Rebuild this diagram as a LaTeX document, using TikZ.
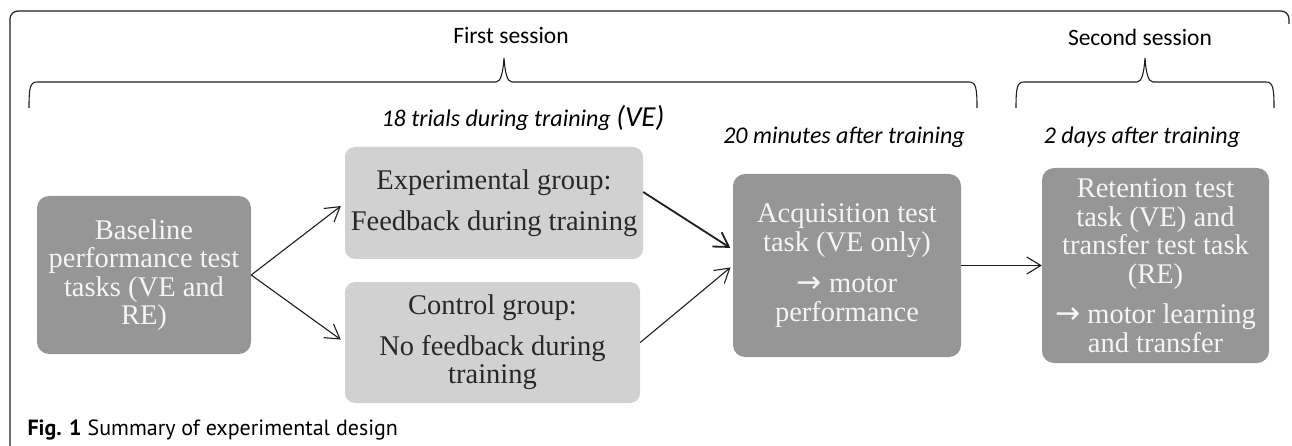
\documentclass[tikz,border=0pt]{standalone}
\usepackage{fontspec}
\setmainfont{Liberation Serif}
\newfontfamily\calibfont{Carlito}
\newfontfamily\capfont{PT Sans}
\newfontfamily\arrowfont{DejaVu Sans}
\usetikzlibrary{arrows.meta}

\definecolor{boxdark}{RGB}{150,150,150}
\definecolor{boxlight}{RGB}{209,209,209}
\definecolor{darktext}{RGB}{245,245,245}
\definecolor{lighttext}{RGB}{40,40,40}
\definecolor{inkline}{RGB}{30,30,30}

\newcommand{\boxfont}{\fontsize{28.5}{28.5}\selectfont}
\newcommand{\sessfont}{\calibfont\fontsize{23.5}{26}\selectfont}
\newcommand{\timefont}{\calibfont\itshape\fontsize{24}{26}\selectfont}
\newcommand{\ra}{{\arrowfont\fontsize{30}{28}\selectfont →}}

\tikzset{
  stagebox/.style={rectangle, rounded corners=12pt, fill=boxdark, text=darktext,
                   align=center, inner sep=2pt, font=\boxfont},
  groupbox/.style={stagebox, rounded corners=10pt, fill=boxlight, text=lighttext},
  flow/.style={draw=inkline, line width=1.1pt, -{Straight Barb[length=14pt,width=17pt]}},
  sessbrace/.style={draw=inkline, line width=1.1pt},
}

\begin{document}
\begin{tikzpicture}[x=1pt,y=-1pt]
  \useasboundingbox (0,0) rectangle (1292,446);

  % Frame
  \draw[inkline, line width=1.2pt, rounded corners=8pt] (10,446) -- (10,11) -- (1289,11) -- (1289,24);

  % Sessions
  \node[font=\sessfont] (first) at (511,36) {First session};
  \node[font=\sessfont] (second) at (1140,37) {Second session};
  \draw[sessbrace] (29,108) .. controls (29,88) and (30,82) .. (37,82) -- (496,82)
                   .. controls (501,82) and (503,72) .. (504,58)
                   .. controls (505,72) and (507,82) .. (512,82) -- (969,82)
                   .. controls (976,82) and (977,88) .. (977,108);
  \draw[sessbrace] (1016,108) .. controls (1016,88) and (1017,82) .. (1024,82) -- (1137,82)
                   .. controls (1142,82) and (1144,72) .. (1145,58)
                   .. controls (1146,72) and (1148,82) .. (1153,82) -- (1266,82)
                   .. controls (1273,82) and (1274,88) .. (1274,108);

  % Timing
  \node[font=\timefont] (trials) at (523,118) {18 trials during training {\fontsize{29}{30}\selectfont(VE)}};
  \node[font=\timefont] (twenty) at (844,137) {20 minutes after training};
  \node[font=\timefont] (twodays) at (1142,137) {2 days after training};

  % Stages
  \node[stagebox, minimum width=214pt, minimum height=158pt] (base) at (144,275)
    {Baseline\\performance test\\tasks (VE and\\RE)};
  \node[groupbox, minimum width=298pt, minimum height=112pt] (exp) at (494,203)
    {Experimental group:\\[12pt]Feedback during training};
  \node[groupbox, minimum width=295pt, minimum height=121pt] (ctrl) at (492.5,342.5)
    {Control group:\\[12pt]No feedback during\\training};
  \node[stagebox, minimum width=228pt, minimum height=183pt] (acq) at (847,265.5)
    {Acquisition test\\task (VE only)\\[13pt]\ra{} motor\\performance};
  \node[stagebox, minimum width=227pt, minimum height=195pt] (ret) at (1155.5,265.5)
    {Retention test\\task (VE) and\\transfer test task\\(RE)\\[12pt]\ra{} motor learning\\and transfer};

  % Arrows
  \draw[flow, shorten >=5pt] (base.east) -- (exp.west);
  \draw[flow, shorten >=5pt] (base.east) -- (ctrl.west);
  \draw[flow, line width=1.8pt, shorten >=3pt] ([yshift=11pt]exp.east) -- ([yshift=16pt]acq.west);
  \draw[flow, shorten >=3pt] (ctrl.east) -- (acq.west);
  \draw[flow] (acq.east) -- (ret.west);

  % Caption
  \node[anchor=west, font=\capfont\fontsize{22}{24}\selectfont] (caption) at (24,430)
    {\textbf{Fig. 1} Summary of experimental design};
\end{tikzpicture}
\end{document}
